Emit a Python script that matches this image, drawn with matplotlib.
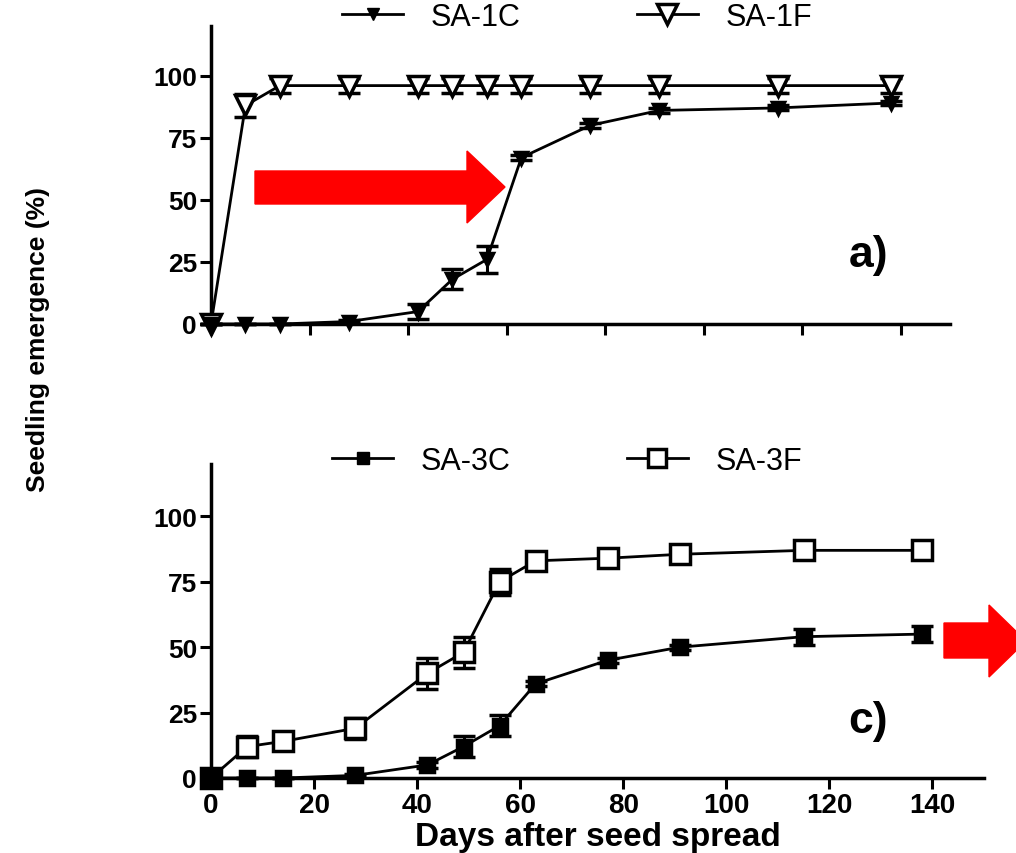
import matplotlib
matplotlib.use("Agg")
import matplotlib.pyplot as plt
from matplotlib.patches import Polygon
from matplotlib.lines import Line2D

plt.rcParams["font.family"] = ["Liberation Sans", "DejaVu Sans"]

# days after seed spread (same sampling for all series)
days = [0, 7, 14, 28, 42, 49, 56, 63, 77, 91, 115, 138]

# panel a)
sa1c = [0, 0, 0, 1, 5, 18, 26, 67, 80, 86, 87, 89]
sa1c_err = [0, 0, 0, 0.5, 3, 4, 5.5, 1, 1, 1, 1, 1]
sa1f = [0, 88, 96, 96, 96, 96, 96, 96, 96, 96, 96, 96]
sa1f_err = [0, 4.5, 3, 3, 3, 3, 3, 3, 3, 3, 3, 3]

# panel c)
sa3c = [0, 0, 0, 1, 5, 12, 20, 36, 45, 50, 54, 55]
sa3c_err = [0, 0, 0, 0.5, 1, 4, 4, 1, 1, 1, 3, 3]
sa3f = [0, 12, 14, 19, 40, 48, 75, 83, 84, 85.5, 87, 87]
sa3f_err = [0, 4, 3, 4, 6, 6, 5, 3, 3, 3, 3, 3]

yticks = [0, 25, 50, 75, 100]
xticks = [0, 20, 40, 60, 80, 100, 120, 140]

W, H = 1016, 854
fig = plt.figure(figsize=(W / 100, H / 100), dpi=100)

ax1 = fig.add_axes([211 / W, 1 - 325 / H, (950 - 211) / W, (325 - 27) / H])
ax2 = fig.add_axes([211 / W, 1 - 779 / H, (984 - 211) / W, (779 - 465) / H])


def style_axis(ax, show_xlabels):
    ax.set_xlim(0, 150)
    ax.set_ylim(0, 120)
    for s in ["top", "right"]:
        ax.spines[s].set_visible(False)
    for s in ["left", "bottom"]:
        ax.spines[s].set_linewidth(2.5)
    ax.set_yticks(yticks)
    ax.set_xticks(xticks)
    ax.tick_params(direction="out", length=8, width=2.2, labelsize=19,
                   pad=2)
    for lbl in ax.get_yticklabels():
        lbl.set_fontweight("bold")
    if show_xlabels:
        for lbl in ax.get_xticklabels():
            lbl.set_fontweight("bold")
        ax.tick_params(axis="x", labelsize=20)
    else:
        ax.set_xticklabels([])


def series(ax, y, err, marker, ms, filled, label):
    ax.errorbar(days, y, yerr=err, color="black", lw=2, marker=marker,
                ms=ms, mew=2.5,
                mfc="black" if filled else "white", mec="black",
                capsize=8, capthick=2.2, elinewidth=2.2, clip_on=False,
                zorder=3, label=label)


style_axis(ax1, False)
series(ax1, sa1f, sa1f_err, "v", 15, False, "SA-1F")
series(ax1, sa1c, sa1c_err, "v", 9, True, "SA-1C")
ax1.text(133.5, 28, "a)", fontsize=32, fontweight="bold", ha="center",
         va="center")

style_axis(ax2, True)
series(ax2, sa3f, sa3f_err, "s", 15, False, "SA-3F")
series(ax2, sa3c, sa3c_err, "s", 10, True, "SA-3C")
ax2.text(127.5, 22, "c)", fontsize=32, fontweight="bold", ha="center",
         va="center")
ax2.set_xlabel("Days after seed spread", fontsize=24, fontweight="bold",
               labelpad=2)

# legends above each panel, order C then F
for ax, names, mk, sizes, pos in [
        (ax1, ["SA-1C", "SA-1F"], "v", [9, 14], (577, 18)),
        (ax2, ["SA-3C", "SA-3F"], "s", [9, 13], (567, 462))]:
    handles = [Line2D([], [], color="black", lw=2, marker=mk, ms=sizes[0],
                      mfc="black", mec="black"),
               Line2D([], [], color="black", lw=2, marker=mk, ms=sizes[1],
                      mfc="white", mec="black", mew=2.5)]
    ax.legend(handles, names, ncol=2, frameon=False, fontsize=22,
              loc="center", bbox_to_anchor=(pos[0] / W, 1 - pos[1] / H),
              bbox_transform=fig.transFigure,
              handlelength=2.0, columnspacing=3.8, handletextpad=0.9)

fig.text(38 / W, 1 - 340 / H, "Seedling emergence (%)", rotation=90,
         ha="center", va="center", fontsize=19, fontweight="bold")

# red arrows drawn on top of the figure (pixel outlines)
arrow_top = [(255, 172), (467, 172), (467, 152), (505, 188), (467, 224),
             (467, 205), (255, 205)]
arrow_bot = [(944, 624), (989, 624), (989, 606), (1026, 642), (989, 678),
             (989, 659), (944, 659)]
for pts in [arrow_top, arrow_bot]:
    fig.patches.append(Polygon([(x / W, 1 - y / H) for x, y in pts],
                               closed=True, color="red",
                               transform=fig.transFigure, zorder=10))

plt.savefig("out.png", dpi=100)
